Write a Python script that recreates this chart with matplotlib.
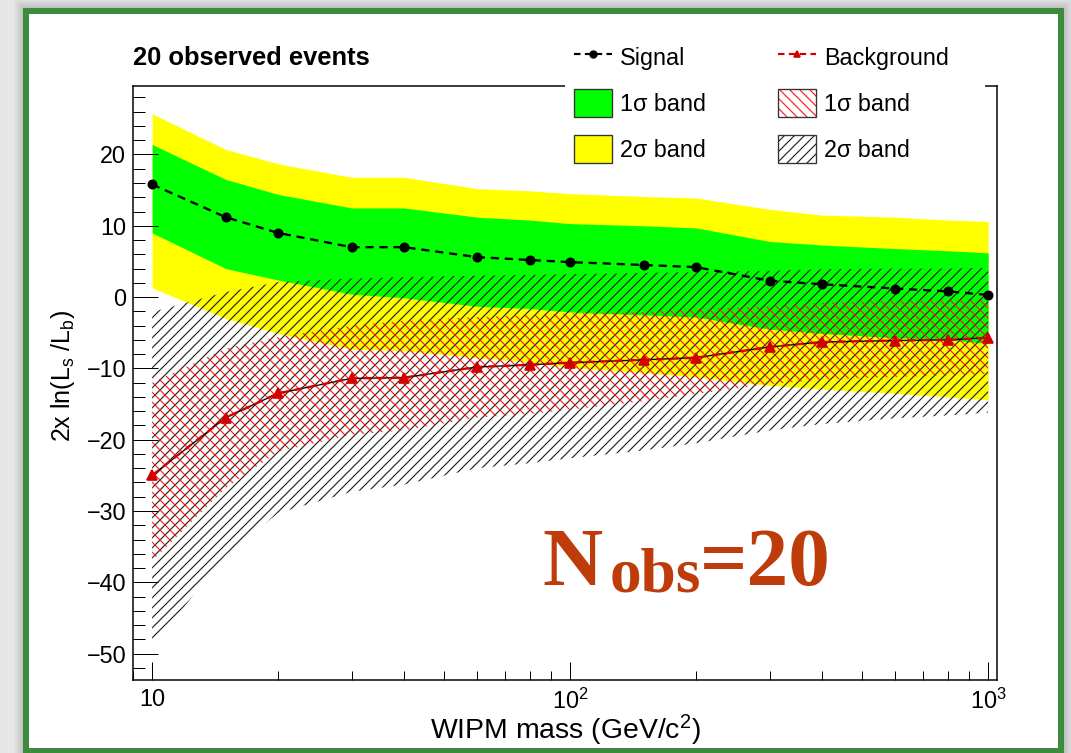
import matplotlib.pyplot as plt
from matplotlib.patches import Rectangle, Patch
from matplotlib.lines import Line2D
from matplotlib.ticker import MultipleLocator, LogLocator, FixedLocator, NullFormatter

plt.rcParams['font.family'] = ['Liberation Sans', 'DejaVu Sans']
plt.rcParams['mathtext.fontset'] = 'custom'
plt.rcParams['mathtext.rm'] = 'Liberation Sans'
plt.rcParams['mathtext.it'] = 'Liberation Sans'
plt.rcParams['mathtext.default'] = 'regular'
plt.rcParams['hatch.linewidth'] = 0.7

# WIPM mass points (GeV/c^2)
mass = [10, 15, 20, 30, 40, 60, 80, 100, 150, 200, 300, 400, 600, 800, 1000]

# 2 ln(Ls/Lb) expectation, signal+background hypothesis
signal = [15.8, 11.2, 9.0, 7.0, 7.0, 5.6, 5.2, 4.9, 4.5, 4.2, 2.3, 1.8, 1.2, 0.8, 0.3]
sig_2up = [25.7, 20.7, 18.7, 16.8, 16.8, 15.2, 14.9, 14.5, 14.1, 13.9, 12.3, 11.5, 11.2, 10.8, 10.6]
sig_1up = [21.4, 16.5, 14.4, 12.5, 12.5, 11.2, 10.8, 10.3, 10.0, 9.7, 7.8, 7.3, 6.8, 6.5, 6.2]
sig_1dn = [9.0, 4.0, 2.4, 0.4, -0.1, -1.3, -1.6, -2.1, -2.5, -2.8, -4.5, -5.1, -5.7, -6.0, -6.5]
sig_2dn = [1.3, -3.0, -5.1, -7.3, -7.5, -8.5, -9.1, -9.9, -10.6, -11.2, -12.4, -12.9, -13.5, -14.0, -14.4]

# background-only hypothesis
background = [-25.0, -16.9, -13.5, -11.4, -11.3, -9.8, -9.5, -9.2, -8.8, -8.5, -7.0, -6.3, -6.1, -6.0, -5.7]
bkg_1up = [-12.0, -7.2, -5.6, -4.0, -3.3, -2.8, -2.5, -2.3, -2.1, -1.7, -1.3, -0.8, -0.5, -0.4, -0.3]
bkg_1dn = [-37.0, -26.8, -21.7, -19.3, -18.7, -16.9, -16.4, -15.8, -14.6, -13.6, -12.2, -11.6, -11.2, -11.0, -10.8]
bkg_2up = [-2.1, 0.7, 2.1, 2.6, 2.8, 3.0, 3.1, 3.2, 3.4, 3.5, 3.7, 3.9, 4.0, 4.0, 4.1]
bkg_2dn = [-49.0, -36.2, -30.3, -27.3, -26.3, -24.0, -23.3, -22.6, -21.5, -20.5, -18.7, -17.8, -17.0, -16.6, -16.2]

W, H, DPI = 1071, 753, 120
fig = plt.figure(figsize=(W / DPI, H / DPI), dpi=DPI, facecolor='#e6e6e6')


def fx(px):
    return px / W


def fy(py):
    return 1 - py / H


# soft shadow + green frame around the canvas
for k in range(12):
    g = 12 - k
    fig.add_artist(Rectangle((fx(26 - g), fy(751 + g)), fx(1035 + 2 * g), fy(11 - g) - fy(751 + g),
                             transform=fig.transFigure, facecolor='black', edgecolor='none',
                             alpha=0.015, zorder=-3))
fig.add_artist(Rectangle((fx(26), fy(751)), fx(1035), fy(11) - fy(751), transform=fig.transFigure,
                         facecolor='white', edgecolor='#3d8b3d', lw=3.6, zorder=-1))

ax = fig.add_axes([fx(133), fy(680), fx(997) - fx(133), fy(86) - fy(680)])
ax.set_facecolor('white')

ax.fill_between(mass, sig_2dn, sig_2up, color='#ffff00', lw=0, zorder=1)
ax.fill_between(mass, sig_1dn, sig_1up, color='#00ff00', lw=0, zorder=1.1)
ax.fill_between(mass, bkg_2dn, bkg_2up, facecolor='none', edgecolor='#222222', lw=0,
                hatch='////', zorder=1.2)
ax.fill_between(mass, bkg_1dn, bkg_1up, facecolor='none', edgecolor='#ff1a1a', lw=0,
                hatch='\\\\\\\\', zorder=1.3)

ax.plot(mass, signal, color='black', ls=(0, (3.5, 2.5)), lw=1.4, marker='o', ms=5, zorder=3)
ax.plot(mass, background, color='black', lw=0.8, zorder=3)
ax.plot(mass, background, color='#d40000', ls=(0, (3.5, 2.5)), lw=1.4, marker='^', ms=5.5, zorder=3.1)

ax.set_xscale('log')
ax.set_xlim(9.0, 1050)
ax.set_ylim(-53.7, 29.6)
ax.xaxis.set_major_locator(FixedLocator([10, 100, 1000]))
ax.set_xticklabels(['10', r'$10^{2}$', r'$10^{3}$'])
ax.xaxis.set_minor_locator(LogLocator(base=10, subs=range(2, 10)))
ax.xaxis.set_minor_formatter(NullFormatter())
ax.yaxis.set_major_locator(MultipleLocator(10))
ax.yaxis.set_minor_locator(MultipleLocator(2))
ax.tick_params(axis='both', which='both', direction='in', top=False, right=False,
               labelsize=14, width=0.6)
ax.tick_params(axis='y', which='major', length=15, pad=4)
ax.tick_params(axis='y', which='minor', length=7.2)
ax.tick_params(axis='x', which='major', length=10.8, pad=5)
ax.tick_params(axis='x', which='minor', length=5.4)
for s in ax.spines.values():
    s.set_linewidth(0.9)

# legend
h_sig = Line2D([], [], color='black', ls=(0, (3, 2)), lw=1.3, marker='o', ms=4)
h_bkg = Line2D([], [], color='#d40000', ls=(0, (3, 2)), lw=1.3, marker='^', ms=4)
h_g = Patch(facecolor='#00ff00', edgecolor='#333333', lw=0.8)
h_y = Patch(facecolor='#ffff00', edgecolor='#333333', lw=0.8)
h_r = (Patch(facecolor='white', edgecolor='#ff1a1a', lw=0, hatch='\\\\\\\\'),
       Patch(facecolor='none', edgecolor='#333333', lw=0.8))
h_k = (Patch(facecolor='white', edgecolor='#222222', lw=0, hatch='////'),
       Patch(facecolor='none', edgecolor='#333333', lw=0.8))

ax.add_patch(Rectangle((fx(565), fy(176)), fx(985) - fx(565), fy(36) - fy(176),
                       transform=fig.transFigure, facecolor='white', edgecolor='none',
                       clip_on=False, zorder=4))
ax.legend([h_sig, h_g, h_y, h_bkg, h_r, h_k],
          ['Signal', '1σ band', '2σ band', 'Background', '1σ band', '2σ band'],
          ncol=2, loc='upper left', bbox_to_anchor=(fx(574), fy(43)),
          bbox_transform=fig.transFigure, frameon=False, fontsize=14,
          borderpad=0, borderaxespad=0, handlelength=1.63, handleheight=1.5,
          handletextpad=0.34, labelspacing=0.75, columnspacing=3.1)

fig.text(fx(133), fy(65), '20 observed events', fontsize=15.3, fontweight='bold',
         ha='left', va='baseline')
fig.text(fx(565), fy(739), 'WIPM mass (GeV/c$^{2}$)', fontsize=17, ha='center', va='baseline')
fig.text(fx(63), fy(376), '2x ln(L$_{s}$ /L$_{b}$)', rotation=90, fontsize=15,
         ha='center', va='center')

nobs_color = '#be3c0a'
fig.text(fx(542), fy(585), 'N', fontsize=50, fontweight='bold', family='Liberation Serif',
         color=nobs_color, ha='left', va='baseline')
fig.text(fx(610), fy(592), 'obs', fontsize=38, fontweight='bold', family='Liberation Serif',
         color=nobs_color, ha='left', va='baseline')
fig.text(fx(700), fy(585), '=20', fontsize=50, fontweight='bold', family='Liberation Serif',
         color=nobs_color, ha='left', va='baseline')

fig.savefig('out.png', dpi=DPI, facecolor=fig.get_facecolor())
